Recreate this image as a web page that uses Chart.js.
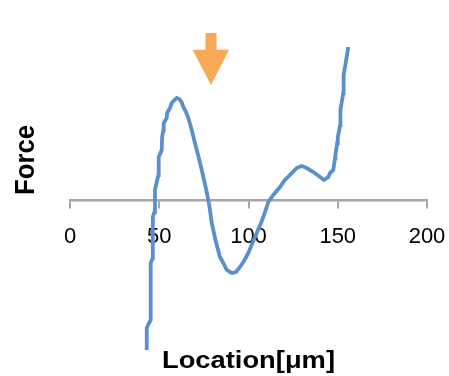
<!DOCTYPE html>
<html>
<head>
<meta charset="utf-8">
<script src="https://cdn.jsdelivr.net/npm/chart.js@4"></script>
<style>
html,body{margin:0;padding:0;background:#fff;}
#wrap{width:449px;height:376px;position:relative;}
</style>
</head>
<body>
<div id="wrap"><canvas id="c" width="449" height="376"></canvas></div>
<script>
// Location in µm
const locations = [43.0, 43.0, 44.0, 45.2, 45.2, 46.3, 46.4, 47.3, 47.6, 48.6,
  49.5, 49.7, 51.4, 51.6, 52.3, 52.5, 54.2, 54.4, 56.0, 57.0,
  58.5, 59.8, 61.2, 62.5, 63.5, 65.0, 66.3, 68.2, 70.0, 71.9,
  73.8, 75.6, 76.9, 78.0, 79.4, 81.5, 84.0, 85.9, 87.8, 90.6,
  93.0, 95.2, 97.5, 99.9, 102.2, 104.6, 106.5, 108.3, 111.1, 113.9,
  117.6, 120.4, 123.2, 127.0, 129.8, 132.6, 136.3, 140.1, 142.3, 144.7,
  145.7, 147.5, 148.5, 148.7, 149.7, 150.0, 151.3, 151.5, 153.1, 153.3,
  155.0, 155.9];
// Force (arbitrary units)
const forces = [-150, -128, -124, -120, -63, -58, -17, -12, 10, 18,
  25, 43, 50, 63, 70, 77, 82, 87, 92, 97,
  100, 102, 101, 98, 93, 88, 82, 70, 57, 44,
  30, 16, 5, -5, -23, -40, -57, -63, -70, -73,
  -72, -67, -61, -53, -43, -33, -25, -17, -2, 5,
  13, 20, 25, 32, 34, 32, 28, 23, 20, 23,
  27, 30, 42, 45, 57, 62, 75, 90, 107, 125,
  143, 153];
const xTicks = [0, 50, 100, 150, 200];
const xTitle = 'Location[μm]';
const yTitle = 'Force';
const arrowLocation = 79;       // marker arrow position (µm)
const arrowForceRange = [115, 167]; // tip and top of arrow (force units)

const points = locations.map((x, i) => ({x: x, y: forces[i]}));

const decor = {
  id: 'decor',
  afterDraw(chart) {
    const ctx = chart.ctx;
    const xs = chart.scales.x, ys = chart.scales.y;
    // arrow
    const ax = xs.getPixelForValue(arrowLocation);
    const tipY = ys.getPixelForValue(arrowForceRange[0]);
    const topY = ys.getPixelForValue(arrowForceRange[1]);
    const h = tipY - topY;
    const headTop = topY + h * 0.32;
    ctx.save();
    ctx.fillStyle = '#F9A955';
    ctx.beginPath();
    ctx.moveTo(ax - 5.5, topY);
    ctx.lineTo(ax + 5.5, topY);
    ctx.lineTo(ax + 5.5, headTop);
    ctx.lineTo(ax + 18, headTop);
    ctx.lineTo(ax, tipY);
    ctx.lineTo(ax - 18.5, headTop);
    ctx.lineTo(ax - 5.5, headTop);
    ctx.closePath();
    ctx.fill();
    ctx.restore();

    // axis titles
    const ca = chart.chartArea;
    ctx.save();
    ctx.fillStyle = '#000';
    ctx.font = 'bold 24px "Liberation Sans", Arial, sans-serif';
    ctx.textAlign = 'center';
    ctx.textBaseline = 'alphabetic';
    let w = ctx.measureText(xTitle).width;
    ctx.translate((ca.left + ca.right) / 2, 368);
    ctx.scale(173 / w, 1);
    ctx.fillText(xTitle, 0, 0);
    ctx.restore();

    ctx.save();
    ctx.fillStyle = '#000';
    ctx.font = 'bold 28px "Liberation Sans", Arial, sans-serif';
    ctx.textAlign = 'center';
    ctx.textBaseline = 'alphabetic';
    w = ctx.measureText(yTitle).width;
    ctx.translate(33.5, 160);
    ctx.rotate(-Math.PI / 2);
    ctx.scale(70 / w, 1);
    ctx.fillText(yTitle, 0, 0);
    ctx.restore();
  }
};

new Chart(document.getElementById('c'), {
  type: 'line',
  data: {
    datasets: [{
      data: points,
      borderColor: '#5B8FCB',
      borderWidth: 3.8,
      pointRadius: 0,
      tension: 0,
      fill: false
    }]
  },
  options: {
    responsive: false,
    animation: false,
    events: [],
    layout: {padding: {top: 45, bottom: 26, left: 70, right: 22}},
    plugins: {legend: {display: false}, tooltip: {enabled: false}, title: {display: false}},
    scales: {
      x: {
        type: 'linear',
        position: {y: 0},
        min: 0, max: 200,
        afterBuildTicks(scale) { scale.ticks = xTicks.map(v => ({value: v})); },
        afterFit(scale) { scale.paddingLeft = 0; scale.paddingRight = 0; },
        ticks: {
          color: '#000',
          font: {family: '"Liberation Sans", Arial, sans-serif', size: 22},
          padding: 17,
          maxRotation: 0
        },
        grid: {display: true, drawOnChartArea: false, drawTicks: true, tickLength: 7, color: '#A6A6A6', lineWidth: 2},
        border: {display: true, color: '#A6A6A6', width: 2.5}
      },
      y: {
        type: 'linear',
        display: false,
        min: -150, max: 155
      }
    }
  },
  plugins: [decor]
});
</script>
</body>
</html>
